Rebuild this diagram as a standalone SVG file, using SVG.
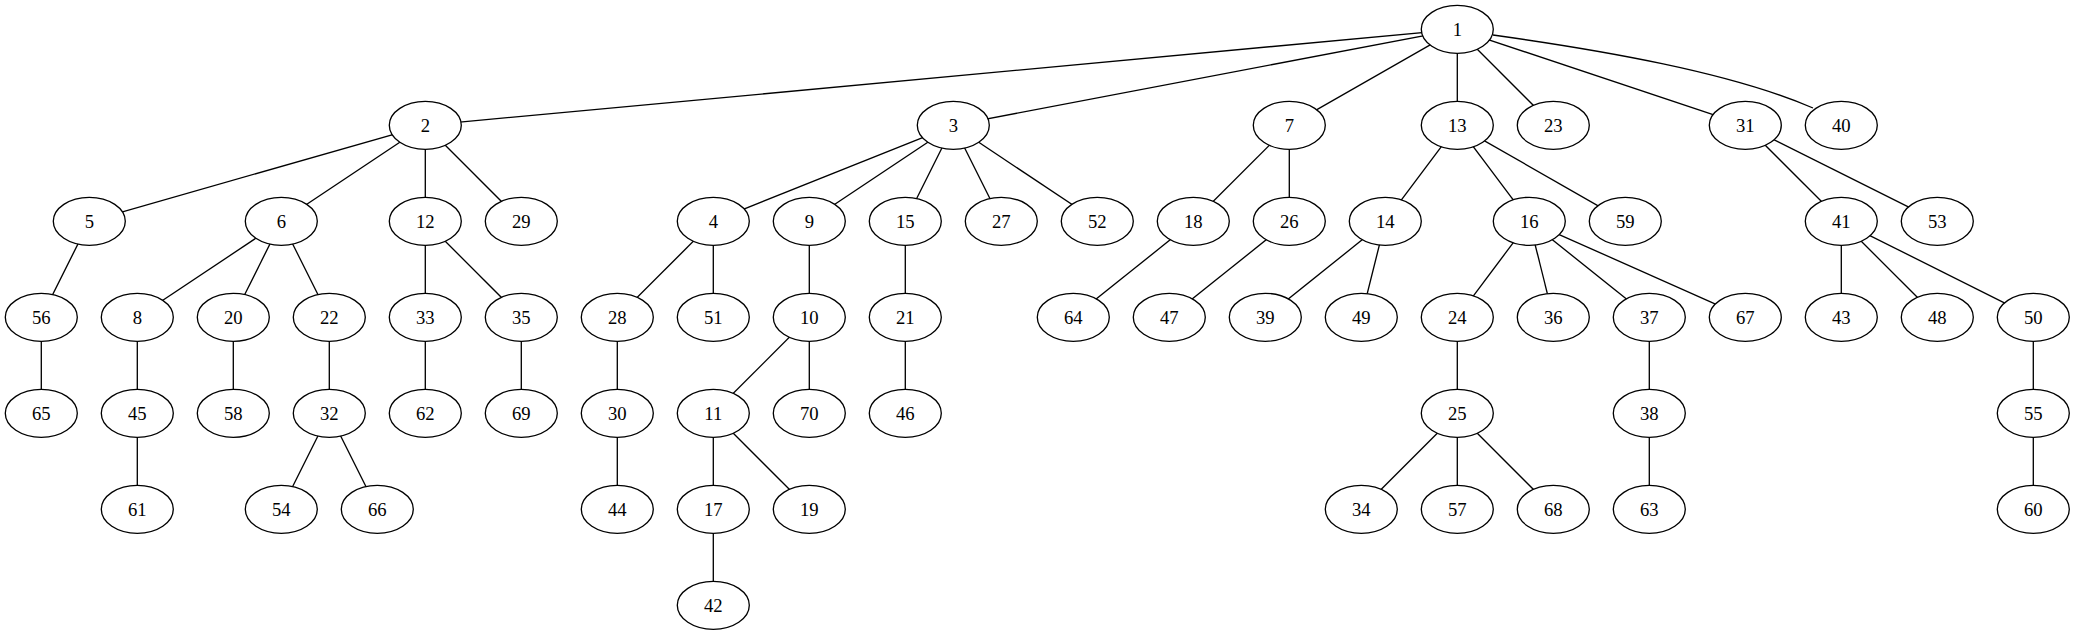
<svg xmlns="http://www.w3.org/2000/svg" width="2075" height="635" viewBox="0 0 2075 635">
<style>
.e{stroke:#000;stroke-width:1.33;fill:none}
.n ellipse{fill:#fff;stroke:#000;stroke-width:1.33}
.n text{font-family:"Liberation Serif","Times New Roman",serif;font-size:18.67px;text-anchor:middle;fill:#000}
</style>
<rect width="2075" height="635" fill="#fff"/>
<g id="edges">
<line class="e" x1="1457.3" y1="29.3" x2="425.3" y2="125.3"/>
<line class="e" x1="1457.3" y1="29.3" x2="953.3" y2="125.3"/>
<line class="e" x1="1457.3" y1="29.3" x2="1289.3" y2="125.3"/>
<line class="e" x1="1457.3" y1="29.3" x2="1457.3" y2="125.3"/>
<line class="e" x1="1457.3" y1="29.3" x2="1553.3" y2="125.3"/>
<line class="e" x1="1457.3" y1="29.3" x2="1745.3" y2="125.3"/>
<path class="e" d="M1493,35 C1600,50 1730,72 1813,108"/>
<line class="e" x1="425.3" y1="125.3" x2="89.3" y2="221.3"/>
<line class="e" x1="425.3" y1="125.3" x2="281.3" y2="221.3"/>
<line class="e" x1="425.3" y1="125.3" x2="425.3" y2="221.3"/>
<line class="e" x1="425.3" y1="125.3" x2="521.3" y2="221.3"/>
<line class="e" x1="953.3" y1="125.3" x2="713.3" y2="221.3"/>
<line class="e" x1="953.3" y1="125.3" x2="809.3" y2="221.3"/>
<line class="e" x1="953.3" y1="125.3" x2="905.3" y2="221.3"/>
<line class="e" x1="953.3" y1="125.3" x2="1001.3" y2="221.3"/>
<line class="e" x1="953.3" y1="125.3" x2="1097.3" y2="221.3"/>
<line class="e" x1="1289.3" y1="125.3" x2="1193.3" y2="221.3"/>
<line class="e" x1="1289.3" y1="125.3" x2="1289.3" y2="221.3"/>
<line class="e" x1="1457.3" y1="125.3" x2="1385.3" y2="221.3"/>
<line class="e" x1="1457.3" y1="125.3" x2="1529.3" y2="221.3"/>
<line class="e" x1="1457.3" y1="125.3" x2="1625.3" y2="221.3"/>
<line class="e" x1="1745.3" y1="125.3" x2="1841.3" y2="221.3"/>
<line class="e" x1="1745.3" y1="125.3" x2="1937.3" y2="221.3"/>
<line class="e" x1="89.3" y1="221.3" x2="41.3" y2="317.3"/>
<line class="e" x1="281.3" y1="221.3" x2="137.3" y2="317.3"/>
<line class="e" x1="281.3" y1="221.3" x2="233.3" y2="317.3"/>
<line class="e" x1="281.3" y1="221.3" x2="329.3" y2="317.3"/>
<line class="e" x1="425.3" y1="221.3" x2="425.3" y2="317.3"/>
<line class="e" x1="425.3" y1="221.3" x2="521.3" y2="317.3"/>
<line class="e" x1="713.3" y1="221.3" x2="617.3" y2="317.3"/>
<line class="e" x1="713.3" y1="221.3" x2="713.3" y2="317.3"/>
<line class="e" x1="809.3" y1="221.3" x2="809.3" y2="317.3"/>
<line class="e" x1="905.3" y1="221.3" x2="905.3" y2="317.3"/>
<line class="e" x1="1193.3" y1="221.3" x2="1073.3" y2="317.3"/>
<line class="e" x1="1289.3" y1="221.3" x2="1169.3" y2="317.3"/>
<line class="e" x1="1385.3" y1="221.3" x2="1265.3" y2="317.3"/>
<line class="e" x1="1385.3" y1="221.3" x2="1361.3" y2="317.3"/>
<line class="e" x1="1529.3" y1="221.3" x2="1457.3" y2="317.3"/>
<line class="e" x1="1529.3" y1="221.3" x2="1553.3" y2="317.3"/>
<line class="e" x1="1529.3" y1="221.3" x2="1649.3" y2="317.3"/>
<line class="e" x1="1529.3" y1="221.3" x2="1745.3" y2="317.3"/>
<line class="e" x1="1841.3" y1="221.3" x2="1841.3" y2="317.3"/>
<line class="e" x1="1841.3" y1="221.3" x2="1937.3" y2="317.3"/>
<line class="e" x1="1841.3" y1="221.3" x2="2033.3" y2="317.3"/>
<line class="e" x1="41.3" y1="317.3" x2="41.3" y2="413.3"/>
<line class="e" x1="137.3" y1="317.3" x2="137.3" y2="413.3"/>
<line class="e" x1="233.3" y1="317.3" x2="233.3" y2="413.3"/>
<line class="e" x1="329.3" y1="317.3" x2="329.3" y2="413.3"/>
<line class="e" x1="425.3" y1="317.3" x2="425.3" y2="413.3"/>
<line class="e" x1="521.3" y1="317.3" x2="521.3" y2="413.3"/>
<line class="e" x1="617.3" y1="317.3" x2="617.3" y2="413.3"/>
<line class="e" x1="809.3" y1="317.3" x2="713.3" y2="413.3"/>
<line class="e" x1="809.3" y1="317.3" x2="809.3" y2="413.3"/>
<line class="e" x1="905.3" y1="317.3" x2="905.3" y2="413.3"/>
<line class="e" x1="1457.3" y1="317.3" x2="1457.3" y2="413.3"/>
<line class="e" x1="1649.3" y1="317.3" x2="1649.3" y2="413.3"/>
<line class="e" x1="2033.3" y1="317.3" x2="2033.3" y2="413.3"/>
<line class="e" x1="137.3" y1="413.3" x2="137.3" y2="509.3"/>
<line class="e" x1="329.3" y1="413.3" x2="281.3" y2="509.3"/>
<line class="e" x1="329.3" y1="413.3" x2="377.3" y2="509.3"/>
<line class="e" x1="617.3" y1="413.3" x2="617.3" y2="509.3"/>
<line class="e" x1="713.3" y1="413.3" x2="713.3" y2="509.3"/>
<line class="e" x1="713.3" y1="413.3" x2="809.3" y2="509.3"/>
<line class="e" x1="1457.3" y1="413.3" x2="1361.3" y2="509.3"/>
<line class="e" x1="1457.3" y1="413.3" x2="1457.3" y2="509.3"/>
<line class="e" x1="1457.3" y1="413.3" x2="1553.3" y2="509.3"/>
<line class="e" x1="1649.3" y1="413.3" x2="1649.3" y2="509.3"/>
<line class="e" x1="2033.3" y1="413.3" x2="2033.3" y2="509.3"/>
<line class="e" x1="713.3" y1="509.3" x2="713.3" y2="605.3"/>
</g>
<g id="node1" class="n"><ellipse cx="1457.3" cy="29.3" rx="36" ry="24"/><text x="1457.3" y="35.5">1</text></g>
<g id="node2" class="n"><ellipse cx="425.3" cy="125.3" rx="36" ry="24"/><text x="425.3" y="131.5">2</text></g>
<g id="node3" class="n"><ellipse cx="953.3" cy="125.3" rx="36" ry="24"/><text x="953.3" y="131.5">3</text></g>
<g id="node7" class="n"><ellipse cx="1289.3" cy="125.3" rx="36" ry="24"/><text x="1289.3" y="131.5">7</text></g>
<g id="node13" class="n"><ellipse cx="1457.3" cy="125.3" rx="36" ry="24"/><text x="1457.3" y="131.5">13</text></g>
<g id="node23" class="n"><ellipse cx="1553.3" cy="125.3" rx="36" ry="24"/><text x="1553.3" y="131.5">23</text></g>
<g id="node31" class="n"><ellipse cx="1745.3" cy="125.3" rx="36" ry="24"/><text x="1745.3" y="131.5">31</text></g>
<g id="node40" class="n"><ellipse cx="1841.3" cy="125.3" rx="36" ry="24"/><text x="1841.3" y="131.5">40</text></g>
<g id="node5" class="n"><ellipse cx="89.3" cy="221.3" rx="36" ry="24"/><text x="89.3" y="227.5">5</text></g>
<g id="node6" class="n"><ellipse cx="281.3" cy="221.3" rx="36" ry="24"/><text x="281.3" y="227.5">6</text></g>
<g id="node12" class="n"><ellipse cx="425.3" cy="221.3" rx="36" ry="24"/><text x="425.3" y="227.5">12</text></g>
<g id="node29" class="n"><ellipse cx="521.3" cy="221.3" rx="36" ry="24"/><text x="521.3" y="227.5">29</text></g>
<g id="node4" class="n"><ellipse cx="713.3" cy="221.3" rx="36" ry="24"/><text x="713.3" y="227.5">4</text></g>
<g id="node9" class="n"><ellipse cx="809.3" cy="221.3" rx="36" ry="24"/><text x="809.3" y="227.5">9</text></g>
<g id="node15" class="n"><ellipse cx="905.3" cy="221.3" rx="36" ry="24"/><text x="905.3" y="227.5">15</text></g>
<g id="node27" class="n"><ellipse cx="1001.3" cy="221.3" rx="36" ry="24"/><text x="1001.3" y="227.5">27</text></g>
<g id="node52" class="n"><ellipse cx="1097.3" cy="221.3" rx="36" ry="24"/><text x="1097.3" y="227.5">52</text></g>
<g id="node18" class="n"><ellipse cx="1193.3" cy="221.3" rx="36" ry="24"/><text x="1193.3" y="227.5">18</text></g>
<g id="node26" class="n"><ellipse cx="1289.3" cy="221.3" rx="36" ry="24"/><text x="1289.3" y="227.5">26</text></g>
<g id="node14" class="n"><ellipse cx="1385.3" cy="221.3" rx="36" ry="24"/><text x="1385.3" y="227.5">14</text></g>
<g id="node16" class="n"><ellipse cx="1529.3" cy="221.3" rx="36" ry="24"/><text x="1529.3" y="227.5">16</text></g>
<g id="node59" class="n"><ellipse cx="1625.3" cy="221.3" rx="36" ry="24"/><text x="1625.3" y="227.5">59</text></g>
<g id="node41" class="n"><ellipse cx="1841.3" cy="221.3" rx="36" ry="24"/><text x="1841.3" y="227.5">41</text></g>
<g id="node53" class="n"><ellipse cx="1937.3" cy="221.3" rx="36" ry="24"/><text x="1937.3" y="227.5">53</text></g>
<g id="node56" class="n"><ellipse cx="41.3" cy="317.3" rx="36" ry="24"/><text x="41.3" y="323.5">56</text></g>
<g id="node8" class="n"><ellipse cx="137.3" cy="317.3" rx="36" ry="24"/><text x="137.3" y="323.5">8</text></g>
<g id="node20" class="n"><ellipse cx="233.3" cy="317.3" rx="36" ry="24"/><text x="233.3" y="323.5">20</text></g>
<g id="node22" class="n"><ellipse cx="329.3" cy="317.3" rx="36" ry="24"/><text x="329.3" y="323.5">22</text></g>
<g id="node33" class="n"><ellipse cx="425.3" cy="317.3" rx="36" ry="24"/><text x="425.3" y="323.5">33</text></g>
<g id="node35" class="n"><ellipse cx="521.3" cy="317.3" rx="36" ry="24"/><text x="521.3" y="323.5">35</text></g>
<g id="node28" class="n"><ellipse cx="617.3" cy="317.3" rx="36" ry="24"/><text x="617.3" y="323.5">28</text></g>
<g id="node51" class="n"><ellipse cx="713.3" cy="317.3" rx="36" ry="24"/><text x="713.3" y="323.5">51</text></g>
<g id="node10" class="n"><ellipse cx="809.3" cy="317.3" rx="36" ry="24"/><text x="809.3" y="323.5">10</text></g>
<g id="node21" class="n"><ellipse cx="905.3" cy="317.3" rx="36" ry="24"/><text x="905.3" y="323.5">21</text></g>
<g id="node64" class="n"><ellipse cx="1073.3" cy="317.3" rx="36" ry="24"/><text x="1073.3" y="323.5">64</text></g>
<g id="node47" class="n"><ellipse cx="1169.3" cy="317.3" rx="36" ry="24"/><text x="1169.3" y="323.5">47</text></g>
<g id="node39" class="n"><ellipse cx="1265.3" cy="317.3" rx="36" ry="24"/><text x="1265.3" y="323.5">39</text></g>
<g id="node49" class="n"><ellipse cx="1361.3" cy="317.3" rx="36" ry="24"/><text x="1361.3" y="323.5">49</text></g>
<g id="node24" class="n"><ellipse cx="1457.3" cy="317.3" rx="36" ry="24"/><text x="1457.3" y="323.5">24</text></g>
<g id="node36" class="n"><ellipse cx="1553.3" cy="317.3" rx="36" ry="24"/><text x="1553.3" y="323.5">36</text></g>
<g id="node37" class="n"><ellipse cx="1649.3" cy="317.3" rx="36" ry="24"/><text x="1649.3" y="323.5">37</text></g>
<g id="node67" class="n"><ellipse cx="1745.3" cy="317.3" rx="36" ry="24"/><text x="1745.3" y="323.5">67</text></g>
<g id="node43" class="n"><ellipse cx="1841.3" cy="317.3" rx="36" ry="24"/><text x="1841.3" y="323.5">43</text></g>
<g id="node48" class="n"><ellipse cx="1937.3" cy="317.3" rx="36" ry="24"/><text x="1937.3" y="323.5">48</text></g>
<g id="node50" class="n"><ellipse cx="2033.3" cy="317.3" rx="36" ry="24"/><text x="2033.3" y="323.5">50</text></g>
<g id="node65" class="n"><ellipse cx="41.3" cy="413.3" rx="36" ry="24"/><text x="41.3" y="419.5">65</text></g>
<g id="node45" class="n"><ellipse cx="137.3" cy="413.3" rx="36" ry="24"/><text x="137.3" y="419.5">45</text></g>
<g id="node58" class="n"><ellipse cx="233.3" cy="413.3" rx="36" ry="24"/><text x="233.3" y="419.5">58</text></g>
<g id="node32" class="n"><ellipse cx="329.3" cy="413.3" rx="36" ry="24"/><text x="329.3" y="419.5">32</text></g>
<g id="node62" class="n"><ellipse cx="425.3" cy="413.3" rx="36" ry="24"/><text x="425.3" y="419.5">62</text></g>
<g id="node69" class="n"><ellipse cx="521.3" cy="413.3" rx="36" ry="24"/><text x="521.3" y="419.5">69</text></g>
<g id="node30" class="n"><ellipse cx="617.3" cy="413.3" rx="36" ry="24"/><text x="617.3" y="419.5">30</text></g>
<g id="node11" class="n"><ellipse cx="713.3" cy="413.3" rx="36" ry="24"/><text x="713.3" y="419.5">11</text></g>
<g id="node70" class="n"><ellipse cx="809.3" cy="413.3" rx="36" ry="24"/><text x="809.3" y="419.5">70</text></g>
<g id="node46" class="n"><ellipse cx="905.3" cy="413.3" rx="36" ry="24"/><text x="905.3" y="419.5">46</text></g>
<g id="node25" class="n"><ellipse cx="1457.3" cy="413.3" rx="36" ry="24"/><text x="1457.3" y="419.5">25</text></g>
<g id="node38" class="n"><ellipse cx="1649.3" cy="413.3" rx="36" ry="24"/><text x="1649.3" y="419.5">38</text></g>
<g id="node55" class="n"><ellipse cx="2033.3" cy="413.3" rx="36" ry="24"/><text x="2033.3" y="419.5">55</text></g>
<g id="node61" class="n"><ellipse cx="137.3" cy="509.3" rx="36" ry="24"/><text x="137.3" y="515.5">61</text></g>
<g id="node54" class="n"><ellipse cx="281.3" cy="509.3" rx="36" ry="24"/><text x="281.3" y="515.5">54</text></g>
<g id="node66" class="n"><ellipse cx="377.3" cy="509.3" rx="36" ry="24"/><text x="377.3" y="515.5">66</text></g>
<g id="node44" class="n"><ellipse cx="617.3" cy="509.3" rx="36" ry="24"/><text x="617.3" y="515.5">44</text></g>
<g id="node17" class="n"><ellipse cx="713.3" cy="509.3" rx="36" ry="24"/><text x="713.3" y="515.5">17</text></g>
<g id="node19" class="n"><ellipse cx="809.3" cy="509.3" rx="36" ry="24"/><text x="809.3" y="515.5">19</text></g>
<g id="node34" class="n"><ellipse cx="1361.3" cy="509.3" rx="36" ry="24"/><text x="1361.3" y="515.5">34</text></g>
<g id="node57" class="n"><ellipse cx="1457.3" cy="509.3" rx="36" ry="24"/><text x="1457.3" y="515.5">57</text></g>
<g id="node68" class="n"><ellipse cx="1553.3" cy="509.3" rx="36" ry="24"/><text x="1553.3" y="515.5">68</text></g>
<g id="node63" class="n"><ellipse cx="1649.3" cy="509.3" rx="36" ry="24"/><text x="1649.3" y="515.5">63</text></g>
<g id="node60" class="n"><ellipse cx="2033.3" cy="509.3" rx="36" ry="24"/><text x="2033.3" y="515.5">60</text></g>
<g id="node42" class="n"><ellipse cx="713.3" cy="605.3" rx="36" ry="24"/><text x="713.3" y="611.5">42</text></g>
</svg>
